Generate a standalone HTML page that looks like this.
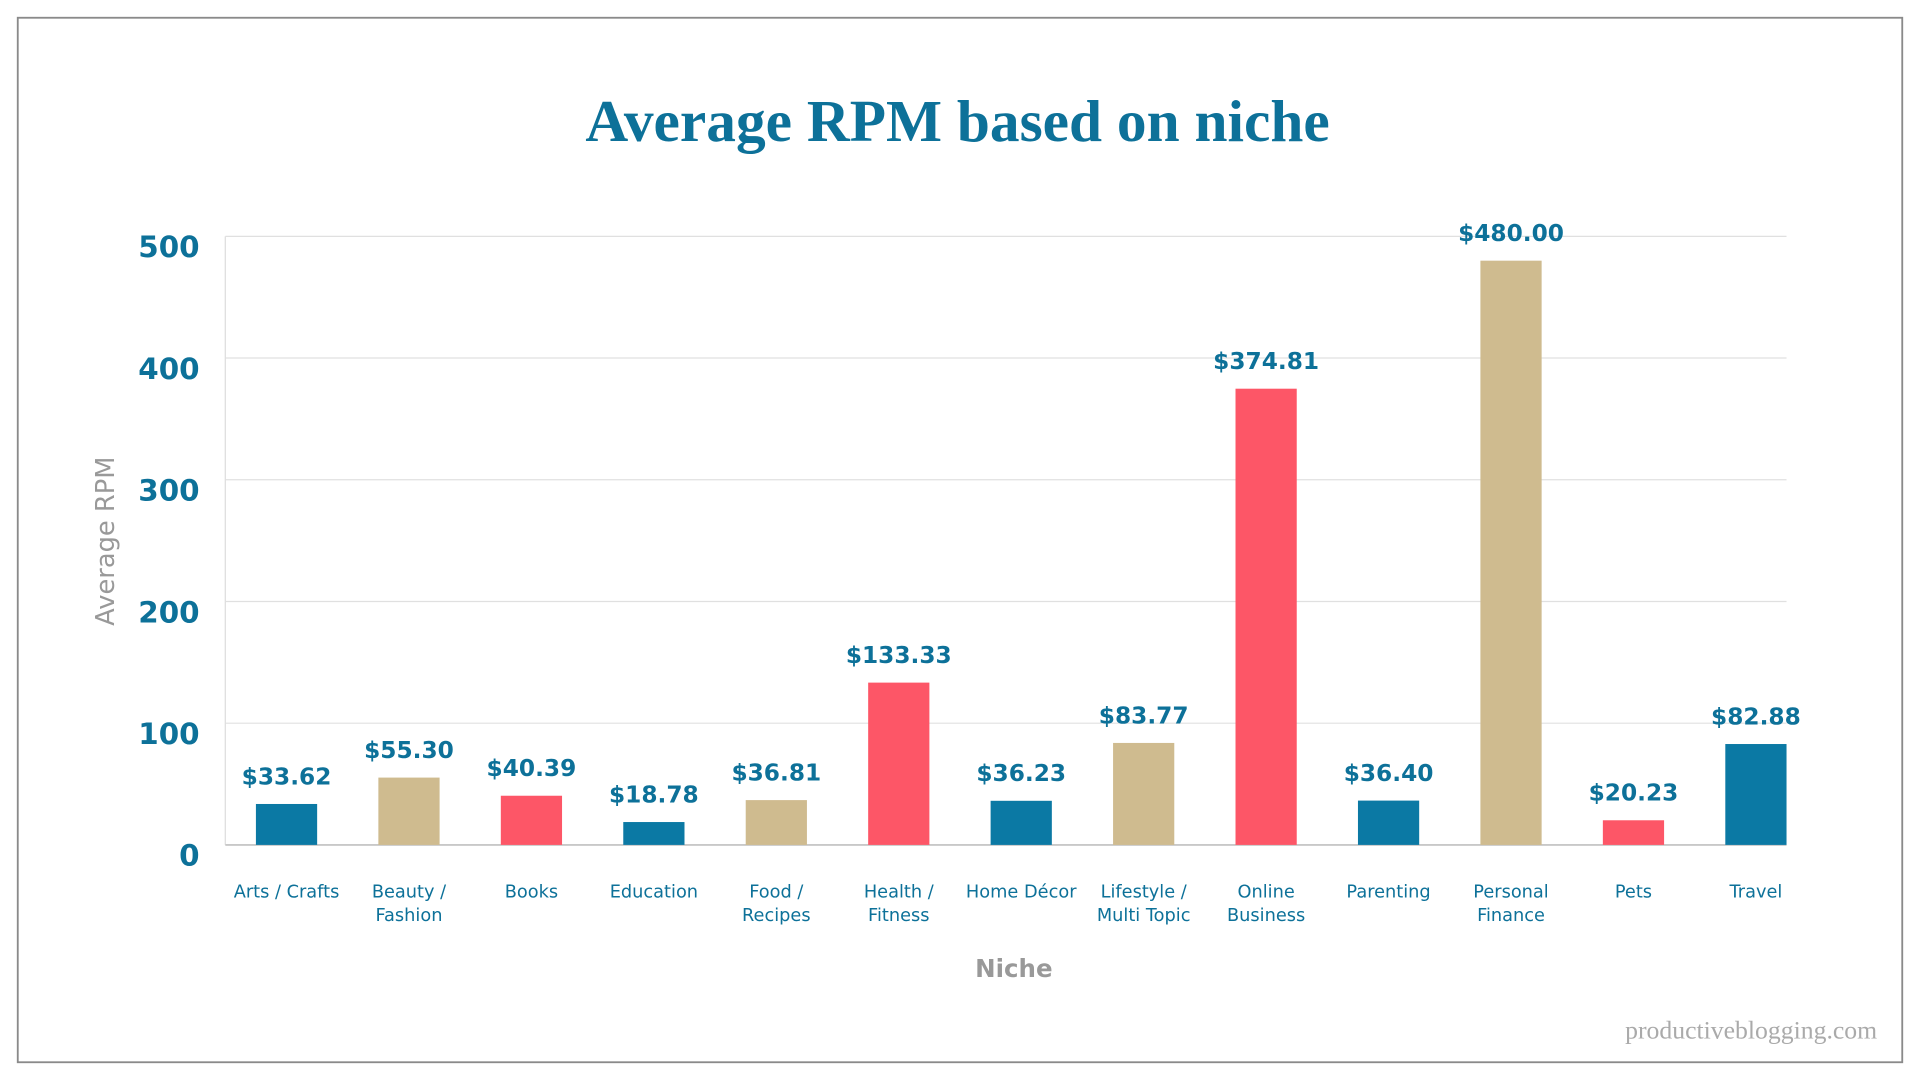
<!DOCTYPE html>
<html><head><meta charset="utf-8"><style>
html,body{margin:0;padding:0;background:#fff;width:1920px;height:1080px;overflow:hidden}
svg{display:block}
</style></head><body>
<svg id="chart" width="1920" height="1080" viewBox="0 0 1568 882" xmlns="http://www.w3.org/2000/svg">
<rect x="14.5" y="14.5" width="1539" height="853" fill="#fff" stroke="#8a8a8a" stroke-width="1.5"/>
<text x="782" y="115" text-anchor="middle" font-family="Liberation Serif, serif" font-weight="bold" font-size="48.5" fill="#0d7199">Average RPM based on niche</text>
<g id="grid"></g><g id="bars"></g>
<text transform="translate(93,442) rotate(-90)" text-anchor="middle" font-family="DejaVu Sans, sans-serif" font-size="21" fill="#999">Average RPM</text>
<text x="828" y="798" text-anchor="middle" font-family="DejaVu Sans, sans-serif" font-size="20" font-weight="bold" fill="#999">Niche</text>
<text x="1533" y="848" text-anchor="end" font-family="Liberation Serif, serif" font-size="21" fill="#aaa">productiveblogging.com</text>
</svg>
<script>
const categories=[["Arts / Crafts"],["Beauty /","Fashion"],["Books"],["Education"],["Food /","Recipes"],["Health /","Fitness"],["Home Décor"],["Lifestyle /","Multi Topic"],["Online","Business"],["Parenting"],["Personal","Finance"],["Pets"],["Travel"]];
const values=[33.62,55.30,40.39,18.78,36.81,133.33,36.23,83.77,374.81,36.40,480.00,20.23,82.88];
const colorIdx=[0,1,2,0,1,2,0,1,2,0,1,2,0];
const yTicks=[0,100,200,300,400,500];
const palette=["#0b79a4","#cfbb8f","#fd5667"];
const NS="http://www.w3.org/2000/svg";
const x0=184,x1=1459,yBase=690,yTop=193,yMax=500;
const y=v=>yBase-(v/yMax)*(yBase-yTop);
const step=100;
const xc=i=>234+step*i;
function mk(tag,attrs,parent,txt){const e=document.createElementNS(NS,tag);for(const k in attrs)e.setAttribute(k,attrs[k]);if(txt!==undefined)e.textContent=txt;parent.appendChild(e);return e;}
const grid=document.getElementById('grid'),bars=document.getElementById('bars');
mk('line',{x1:x0,y1:yTop,x2:x0,y2:yBase,stroke:'#ddd','stroke-width':1},grid);
yTicks.forEach(t=>{
 const l=mk('line',{x1:x0,y1:y(t),x2:x1,y2:y(t),stroke:t===0?'#c8c8c8':'#e0e0e0','stroke-width':t===0?1.5:1},grid);
 
 
 const tx=mk('text',{x:163,y:y(t)+17,'text-anchor':'end','font-family':'DejaVu Sans, sans-serif','font-weight':'bold','font-size':24,fill:'#0d7199'},grid,String(t));
 
 
});
values.forEach((v,i)=>{
 const cx=xc(i);
 const r=mk('rect',{x:cx-25,y:y(v),width:50,height:yBase-y(v),fill:palette[colorIdx[i]]},bars);
 
 
 const lb=mk('text',{x:cx,y:y(v)-16,'text-anchor':'middle','font-family':'DejaVu Sans, sans-serif','font-weight':'bold','font-size':19,fill:'#0d7199'},bars,'$'+v.toFixed(2));
 
 
 categories[i].forEach((line,j)=>{
  const c=mk('text',{x:cx,y:733+j*19,'text-anchor':'middle','font-family':'DejaVu Sans, sans-serif','font-size':14.5,fill:'#0d7199'},bars,line);
  
  
 });
});
</script>
</body></html>
